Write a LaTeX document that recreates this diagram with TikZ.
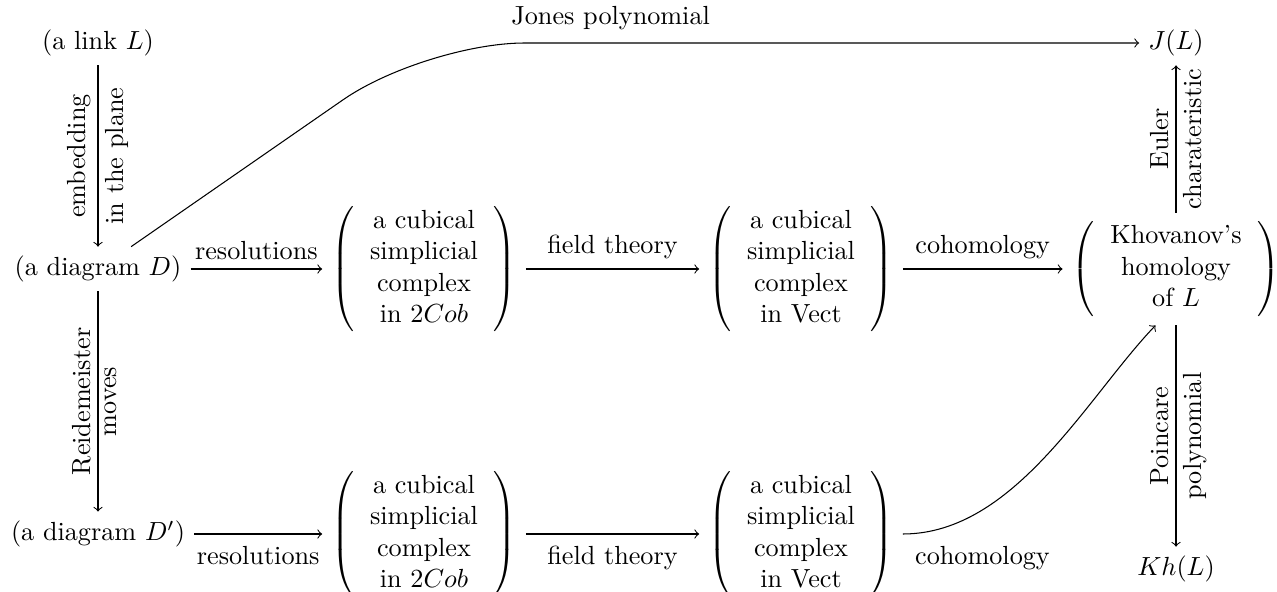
\documentclass[tikz,border=0pt]{standalone}
\usetikzlibrary{calc}
\begin{document}
\begin{tikzpicture}[x=0.3817pt, y=-0.3817pt,
  lblL/.style={rotate=90, anchor=south, inner sep=2.5pt},
  lblR/.style={rotate=90, anchor=north, inner sep=2.5pt},
  lblA/.style={anchor=south, inner sep=3.5pt},
  lblB/.style={anchor=north, inner sep=4.5pt},
  arr/.style={->}]
\useasboundingbox (0,0) rectangle (1277,592);
\node (link) at (98,43) {(a link $L$)};
\node (D) at (98,269) {(a diagram $D$)};
\node (Dp) at (98,534) {(a diagram $D'$)};
\node (M1) at (424,269) {$\left(\begin{tabular}{c}a cubical\\simplicial\\complex\\in $2Cob$\end{tabular}\right)$};
\node (M2) at (801,269) {$\left(\begin{tabular}{c}a cubical\\simplicial\\complex\\in Vect\end{tabular}\right)$};
\node (K) at (1176,269) {$\left(\begin{tabular}{c}Khovanov's\\homology\\of $L$\end{tabular}\right)$};
\node (J) at (1176,43) {$J(L)$};
\node (Kh) at (1176,569) {$Kh(L)$};
\node (M3) at (424,534) {$\left(\begin{tabular}{c}a cubical\\simplicial\\complex\\in $2Cob$\end{tabular}\right)$};
\node (M4) at (801,534) {$\left(\begin{tabular}{c}a cubical\\simplicial\\complex\\in Vect\end{tabular}\right)$};
\coordinate (jc) at (425,43);

\draw[arr] (link) -- node[lblL]{embedding} node[lblR]{in the plane} (D);
\draw[arr] (D) -- node[lblL]{Reidemeister} node[lblR]{moves} (Dp);
\draw[arr] (D) -- node[lblA]{resolutions} (M1);
\draw[arr] (M1) -- node[lblA]{field theory} (M2);
\draw[arr] (M2) -- node[lblA]{cohomology} (K);
\draw[arr] (Dp) -- node[lblB]{resolutions} (M3);
\draw[arr] (M3) -- node[lblB]{field theory} (M4);
\draw[arr] (K) -- node[lblL]{Euler} node[lblR]{charateristic} (J);
\draw[arr] (K) -- node[lblL]{Poincare} node[lblR]{polynomial} (Kh);
\draw[arr, rounded corners=38pt] (D.34) -- (jc) -- node[anchor=south, inner sep=5pt, pos=0.26]{Jones polynomial} (J);
\draw[arr] (M4.east) .. controls +(112,0) and +(-68,71) .. node[at start, anchor=north west, inner sep=4.5pt]{cohomology} (K.250);
\end{tikzpicture}
\end{document}
